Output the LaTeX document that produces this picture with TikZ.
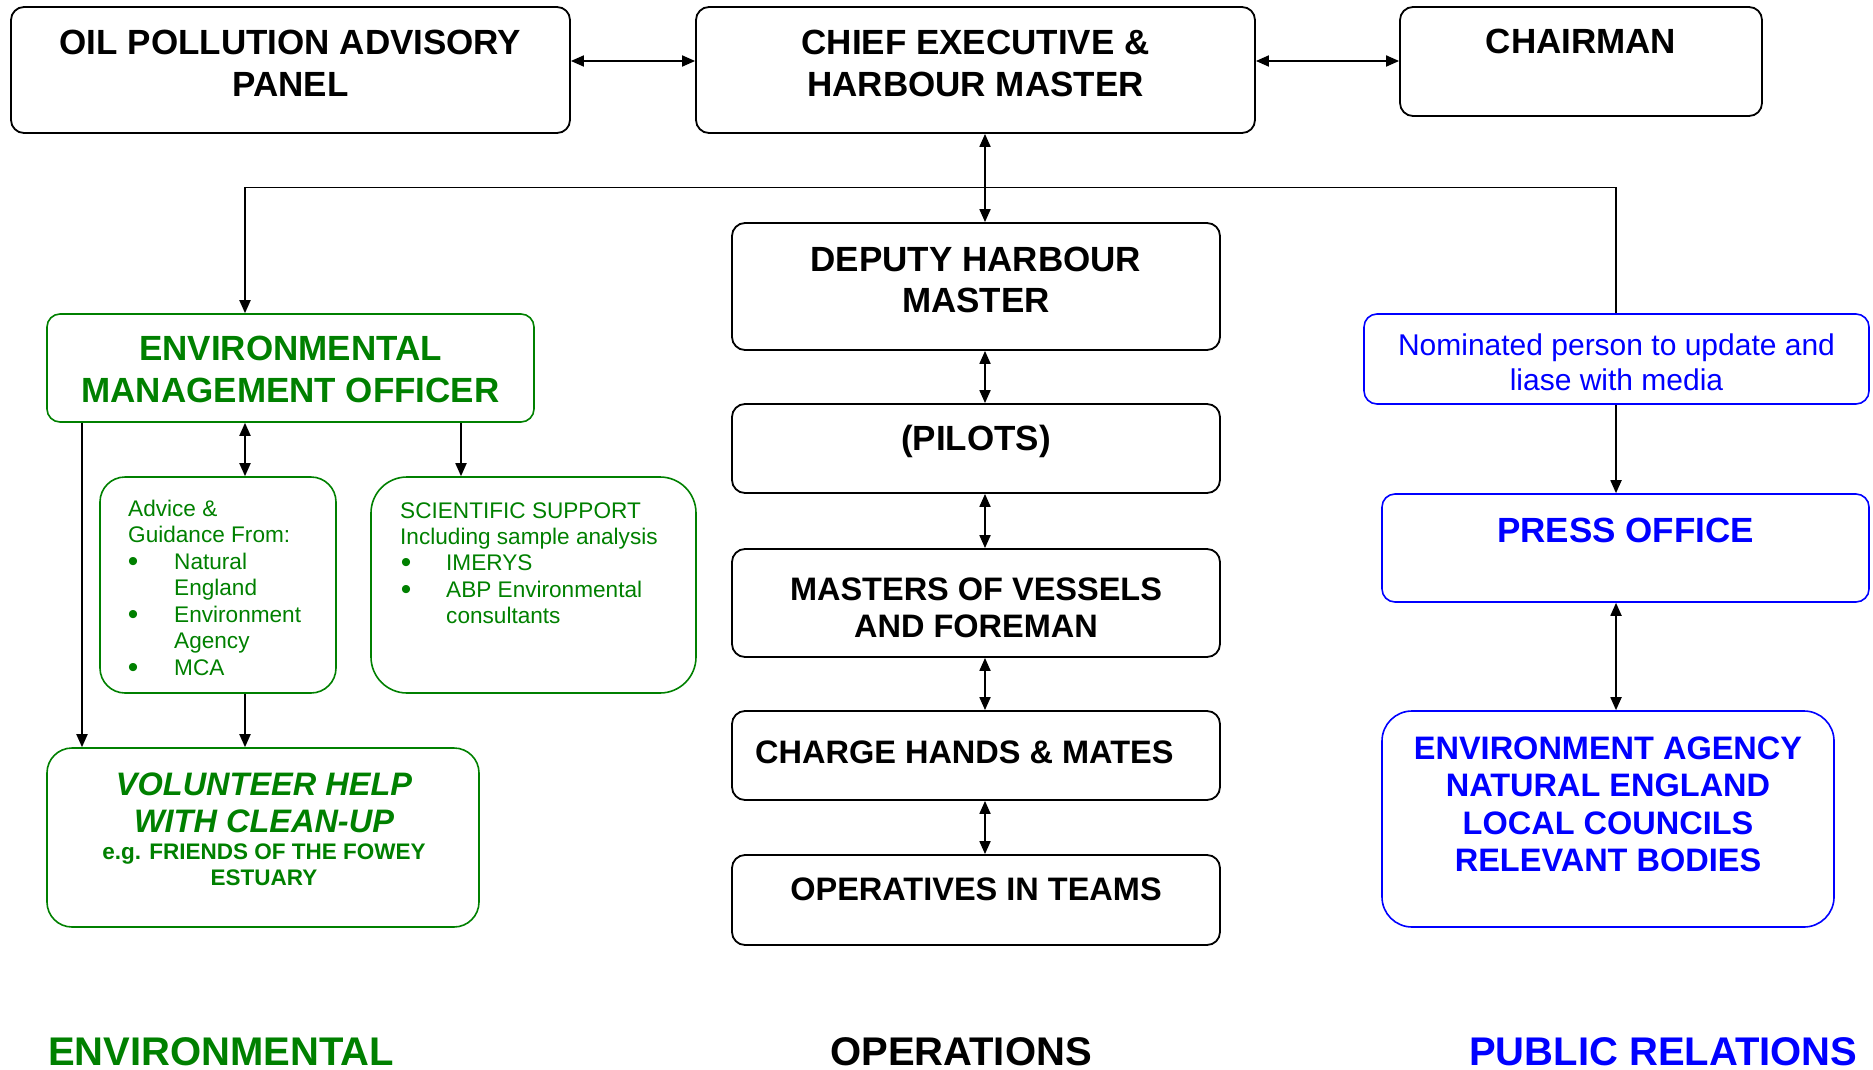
\documentclass[tikz,border=0pt]{standalone}
\usepackage{fontspec}
\setmainfont{Liberation Sans}
\usetikzlibrary{arrows.meta}
\definecolor{grn}{RGB}{0,128,0}
\definecolor{blu}{RGB}{0,0,255}
\tikzset{
  bx/.style={draw=black, line width=1.8pt, rounded corners=13pt, inner sep=0pt},
  gbx/.style={bx, draw=grn, line width=1.6pt},
  bbx/.style={bx, draw=blu, line width=1.6pt},
  conn/.style={line width=1.8pt, black},
  tip/.style={-{Triangle[length=13pt,width=11pt]}},
  dtip/.style={{Triangle[length=13pt,width=11pt]}-{Triangle[length=13pt,width=11pt]}},
  big/.style={font=\fontsize{35}{42}\selectfont\bfseries, inner sep=0pt, anchor=base},
  mid/.style={font=\fontsize{32.5}{38}\selectfont\bfseries, inner sep=0pt, anchor=base},
  sml/.style={font=\fontsize{22.6}{26.6}\selectfont, inner sep=0pt, anchor=base west, text=grn},
  bul/.style={font=\fontsize{30}{30}\selectfont, inner sep=0pt, anchor=base, text=grn},
  nomf/.style={font=\fontsize{30}{35}\selectfont, inner sep=0pt, anchor=base, text=blu},
  lab/.style={font=\fontsize{40}{46}\selectfont\bfseries, inner sep=0pt, anchor=base west},
}
\begin{document}
\begin{tikzpicture}[x=1pt,y=-1pt]
\useasboundingbox (0,0) rectangle (1873,1070);
% boxes
\node[bx, minimum width=559pt, minimum height=126pt] (opap) at (290.5,70) {};
\node[bx, minimum width=559pt, minimum height=126pt] (ceo) at (975.5,70) {};
\node[bx, minimum width=362pt, minimum height=109pt] (chair) at (1581,61.5) {};
\node[bx, minimum width=488pt, minimum height=127pt] (dhm) at (976,286.5) {};
\node[bx, minimum width=488pt, minimum height=89pt] (pilots) at (976,448.5) {};
\node[bx, minimum width=488pt, minimum height=108pt] (masters) at (976,603) {};
\node[bx, minimum width=488pt, minimum height=89pt] (charge) at (976,755.5) {};
\node[bx, minimum width=488pt, minimum height=90pt] (oper) at (976,900) {};
\node[gbx, minimum width=487pt, minimum height=108pt] (emo) at (290.5,368) {};
\node[gbx, rounded corners=25pt, minimum width=236pt, minimum height=216pt] (advice) at (218,585) {};
\node[gbx, rounded corners=36pt, minimum width=325pt, minimum height=216pt] (sci) at (533.5,585) {};
\node[gbx, rounded corners=25pt, minimum width=432pt, minimum height=179pt] (vol) at (263,837.5) {};
\node[bbx, minimum width=505pt, minimum height=90pt] (nom) at (1616.5,359) {};
\node[bbx, minimum width=487pt, minimum height=108pt] (press) at (1625.5,548) {};
\node[bbx, rounded corners=30pt, minimum width=452pt, minimum height=216pt] (envag) at (1608,819) {};
% helper coordinates
\coordinate (cx82) at (82,0);
\coordinate (cx245) at (245,0);
\coordinate (cx461) at (461,0);
\coordinate (cx985) at (985,0);
\coordinate (cx1616) at (1616,0);
\coordinate (ry61) at (0,61);
\coordinate (ry187) at (0,187.5);
% connectors
\draw[conn,dtip] (opap.east |- ry61) -- (ceo.west |- ry61);
\draw[conn,dtip] (ceo.east |- ry61) -- (chair.west |- ry61);
\draw[conn,dtip] (ceo.south -| cx985) -- (dhm.north -| cx985);
\draw[conn,dtip] (dhm.south -| cx985) -- (pilots.north -| cx985);
\draw[conn,dtip] (pilots.south -| cx985) -- (masters.north -| cx985);
\draw[conn,dtip] (masters.south -| cx985) -- (charge.north -| cx985);
\draw[conn,dtip] (charge.south -| cx985) -- (oper.north -| cx985);
\draw[conn,tip] (nom.north -| cx1616) -- (cx1616 |- ry187) -- (cx245 |- ry187) -- (emo.north -| cx245);
\draw[conn,tip] (emo.south -| cx82) -- (vol.north -| cx82);
\draw[conn,dtip] (emo.south -| cx245) -- (advice.north -| cx245);
\draw[conn,tip] (emo.south -| cx461) -- (sci.north -| cx461);
\draw[conn,tip] (advice.south -| cx245) -- (vol.north -| cx245);
\draw[conn,tip] (nom.south -| cx1616) -- (press.north -| cx1616);
\draw[conn,dtip] (press.south -| cx1616) -- (envag.north -| cx1616);
% texts
\node[big] (t1) at (290.5,55) {OIL POLLUTION ADVISORY};
\node[big] (t2) at (290.5,97) {PANEL};
\node[big] (t3) at (975.5,55) {CHIEF EXECUTIVE \&};
\node[big] (t4) at (975.5,97) {HARBOUR MASTER};
\node[big] (t5) at (1581,54) {CHAIRMAN};
\node[big] (t6) at (976,271) {DEPUTY HARBOUR};
\node[big] (t7) at (976,312) {MASTER};
\node[big] (t8) at (976,450) {(PILOTS)};
\node[mid] (t9) at (976,600) {MASTERS OF VESSELS};
\node[mid] (t10) at (976,637) {AND FOREMAN};
\node[mid, anchor=base west] (t11) at (755,763) {CHARGE HANDS \& MATES};
\node[mid] (t12) at (976,900) {OPERATIVES IN TEAMS};
\node[big, text=grn] (t13) at (290.5,360) {ENVIRONMENTAL};
\node[big, text=grn] (t14) at (290.5,402) {MANAGEMENT OFFICER};
% advice
\node[sml] (a1) at (128,516) {Advice \&};
\node[sml] (a2) at (128,542.5) {Guidance From:};
\node[bul] (a3b) at (133,571) {•};
\node[sml] (a3) at (174,569) {Natural};
\node[sml] (a4) at (174,595.5) {England};
\node[bul] (a5b) at (133,624) {•};
\node[sml] (a5) at (174,622) {Environment};
\node[sml] (a6) at (174,648.5) {Agency};
\node[bul] (a7b) at (133,677) {•};
\node[sml] (a7) at (174,675) {MCA};
% science
\node[sml] (s1) at (400,518) {SCIENTIFIC SUPPORT};
\node[sml] (s2) at (400,544) {Including sample analysis};
\node[bul] (s3b) at (406,572.5) {•};
\node[sml] (s3) at (446,570.5) {IMERYS};
\node[bul] (s4b) at (406,599) {•};
\node[sml] (s4) at (446,597) {ABP Environmental};
\node[sml] (s5) at (446,623.5) {consultants};
% volunteer
\node[mid, text=grn, font=\fontsize{32.5}{38}\selectfont\bfseries\itshape] (v1) at (264,795) {VOLUNTEER HELP};
\node[mid, text=grn, font=\fontsize{32.5}{38}\selectfont\bfseries\itshape] (v2) at (264,832) {WITH CLEAN-UP};
\node[mid, text=grn, font=\fontsize{22.5}{26}\selectfont\bfseries] (v3) at (264,859) {e.g. FRIENDS OF THE FOWEY};
\node[mid, text=grn, font=\fontsize{22.5}{26}\selectfont\bfseries] (v4) at (264,885) {ESTUARY};
% public relations
\node[nomf] (n1) at (1616.5,355) {Nominated person to update and};
\node[nomf] (n2) at (1616.5,390) {liase with media};
\node[big, text=blu] (p1) at (1625.5,542) {PRESS OFFICE};
\node[mid, text=blu] (e1) at (1608,759) {ENVIRONMENT AGENCY};
\node[mid, text=blu] (e2) at (1608,796) {NATURAL ENGLAND};
\node[mid, text=blu] (e3) at (1608,834) {LOCAL COUNCILS};
\node[mid, text=blu] (e4) at (1608,871) {RELEVANT BODIES};
% column labels
\node[lab, text=grn] (l1) at (48,1065) {ENVIRONMENTAL};
\node[lab] (l2) at (830,1065) {OPERATIONS};
\node[lab, text=blu] (l3) at (1469,1065) {PUBLIC RELATIONS};
\end{tikzpicture}
\end{document}
